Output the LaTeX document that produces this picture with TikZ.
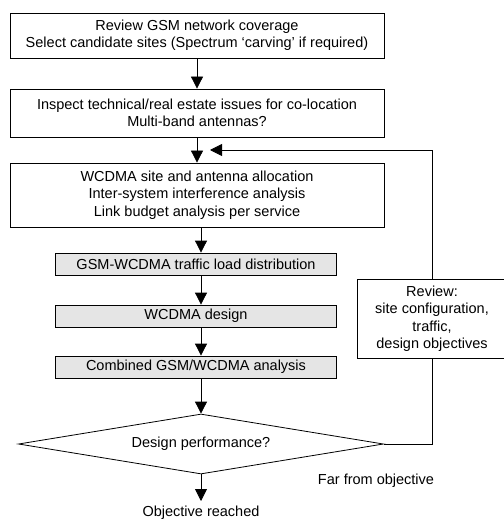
\documentclass[tikz,border=0pt]{standalone}
\usepackage{fontspec}
\setmainfont{Liberation Sans}
\usetikzlibrary{arrows.meta,shapes.geometric}
\begin{document}
\begin{tikzpicture}[x=1pt,y=-1pt,
  every node/.style={font=\fontsize{14.5}{17.5}\selectfont, align=center, inner sep=0pt},
  stage/.style={draw, line width=0.8pt, minimum width=374pt},
  graystage/.style={draw, line width=0.8pt, fill=black!10, minimum width=281pt, minimum height=22pt},
  decision/.style={draw, diamond, line width=0.8pt, minimum width=365pt, minimum height=60pt, aspect=6},
  reviewbox/.style={draw, line width=0.8pt, minimum width=150pt, minimum height=79pt},
  flow/.style={line width=0.8pt, -{Triangle[length=12pt,width=12pt]}},
  link/.style={line width=0.8pt}]
\useasboundingbox (0,0) rectangle (503,521);

% main column of process steps
\node[stage, minimum height=45pt] (b1) at (197,35.5)
  {Review GSM network coverage\\Select candidate sites (Spectrum ‘carving’ if required)};
\node[stage, minimum height=48pt] (b2) at (197,113)
  {Inspect technical/real estate issues for co-location\\Multi-band antennas?};
\node[stage, minimum height=64pt] (b3) at (197,195)
  {WCDMA site and antenna allocation\\Inter-system interference analysis\\Link budget analysis per service};
\node[graystage] (g1) at (196,264) {GSM-WCDMA traffic load distribution};
\node[graystage] (g2) at (196,316) {WCDMA design};
\node[graystage] (g3) at (196,367) {Combined GSM/WCDMA analysis};
\node[decision] (dec) at (201,444) {Design performance?};

% feedback branch
\node[reviewbox] (rev) at (432,318.5)
  {Review:\\site configuration,\\traffic,\\design objectives};
\node (far) at (376,481) {Far from objective};
\node (reached) at (201,512.5) {Objective reached};

\coordinate (fb) at (210,150);
\coordinate (out) at (201,501);

% connectors
\draw[flow] (b1.south) -- (b2.north);
\draw[flow] (b2.south) -- (b3.north);
\draw[flow] (b3.south -| dec.north) -- (g1.north -| dec.north);
\draw[flow] (g1.south -| dec.north) -- (g2.north -| dec.north);
\draw[flow] (g2.south -| dec.north) -- (g3.north -| dec.north);
\draw[flow] (g3.south -| dec.north) -- (dec.north);
\draw[flow] (dec.south) -- (out);
\draw[link] (dec.east) -| (rev.south);
\draw[flow] (rev.north) |- (fb);
\end{tikzpicture}
\end{document}
